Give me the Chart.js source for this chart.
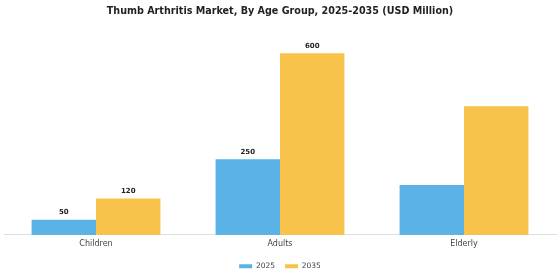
<!DOCTYPE html>
<html>
<head>
<meta charset="utf-8">
<script src="https://cdn.jsdelivr.net/npm/chart.js@4"></script>
<style>
  html, body { margin: 0; padding: 0; background: #fff; }
  #wrap { width: 560px; height: 280px; }
</style>
</head>
<body>
<div id="wrap"><canvas id="age-chart"></canvas></div>
<script>
let categories = ['Children', 'Adults', 'Elderly'];
let values2025 = [50, 250, 165];
let values2035 = [120, 600, 425];
let seriesNames = ['2025', '2035'];
// only these categories get a value printed above the bars
let labelled = ['Children', 'Adults'];

const barLabels = {
    id: 'barLabels',
    afterDatasetsDraw(chart) {
        const ctx = chart.ctx;
        ctx.save();
        ctx.font = 'bold 7px "DejaVu Sans"';
        ctx.fillStyle = '#222';
        ctx.textAlign = 'center';
        ctx.textBaseline = 'bottom';
        chart.data.datasets.forEach((ds, i) => {
            chart.getDatasetMeta(i).data.forEach((bar, j) => {
                if (!labelled.includes(categories[j])) return;
                ctx.fillText(ds.data[j], bar.x, bar.y - 4);
            });
        });
        ctx.restore();
    }
};

const ageData = {
    labels: categories,
    datasets: [
        {
            label: seriesNames[0],
            data: values2025,
            backgroundColor: '#5BB2E6',
            barPercentage: 1,
            categoryPercentage: 0.7,
        },
        {
            label: seriesNames[1],
            data: values2035,
            backgroundColor: '#F7C34B',
            barPercentage: 1,
            categoryPercentage: 0.7,
        }
    ]
};

const ageConfig = {
    type: 'bar',
    data: ageData,
    plugins: [barLabels],
    options: {
        responsive: true,
        maintainAspectRatio: false,
        animation: false,
        layout: { padding: { left: 4, right: 4, top: 0, bottom: 0 } },
        plugins: {
            title: {
                display: true,
                text: 'Thumb Arthritis Market, By Age Group, 2025-2035 (USD Million)',
                font: { family: 'DejaVu Sans', size: 9.6, weight: 'bold' },
                color: '#222',
                padding: { top: 6, bottom: 4 }
            },
            legend: {
                position: 'bottom',
                labels: {
                    boxWidth: 13,
                    boxHeight: 4,
                    font: { family: 'DejaVu Sans', size: 7.5 },
                    color: '#444',
                    padding: 10
                }
            },
            tooltip: { enabled: false }
        },
        scales: {
            x: {
                grid: { display: false, drawTicks: false },
                border: { color: '#ddd' },
                ticks: { font: { family: 'DejaVu Sans', size: 8 }, color: '#444', padding: 4 }
            },
            y: {
                display: false,
                min: 0,
                max: 705
            }
        }
    }
};

new Chart(document.getElementById('age-chart'), ageConfig);
</script>
</body>
</html>
